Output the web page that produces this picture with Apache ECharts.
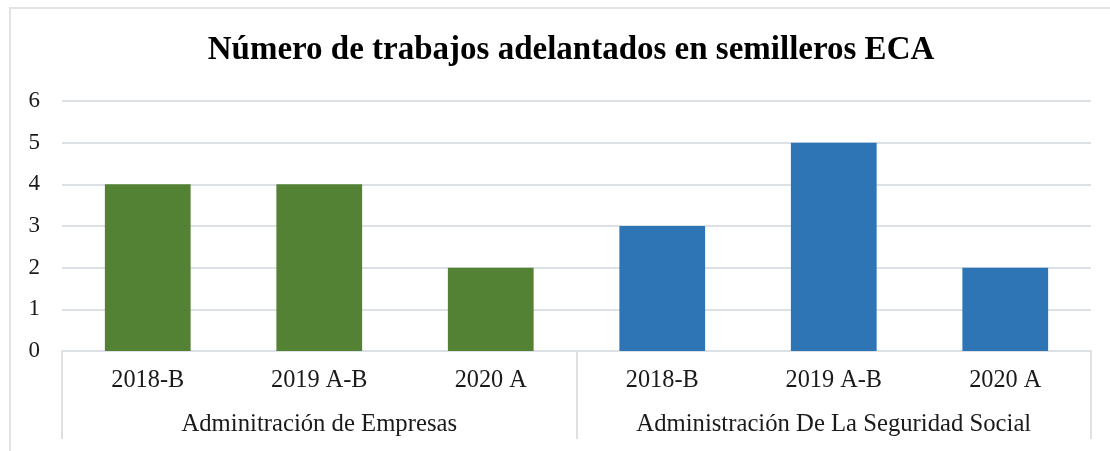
<!DOCTYPE html>
<html>
<head>
<meta charset="utf-8">
<script src="https://cdn.jsdelivr.net/npm/echarts@6/dist/echarts.min.js"></script>
<style>
html,body{margin:0;padding:0;background:#fff;}
#chart{width:1110px;height:451px;}
</style>
</head>
<body>
<div id="chart"></div>
<script>
const titleText = 'Número de trabajos adelantados en semilleros ECA';
const groups = ['Adminitración de Empresas', 'Administración De La Seguridad Social'];
const periods = ['2018-B', '2019 A-B', '2020 A', '2018-B', '2019 A-B', '2020 A'];
const groupOfPeriod = [0, 0, 0, 1, 1, 1];
const values = [4, 4, 2, 3, 5, 2];
const yTicks = [0, 1, 2, 3, 4, 5, 6];
const groupColors = ['#548235', '#2E75B6'];

const serif = '"Liberation Serif", "Times New Roman", serif';
const chart = echarts.init(document.getElementById('chart'));
chart.setOption({
  backgroundColor: '#ffffff',
  animation: false,
  graphic: [{
    type: 'rect',
    shape: {x: 10, y: 8, width: 1120, height: 460},
    style: {fill: 'none', stroke: '#e3e3e3', lineWidth: 2},
    silent: true
  }],
  title: {
    text: titleText,
    left: 566, top: 29, textAlign: 'center',
    textStyle: {fontFamily: serif, fontWeight: 'bold', fontSize: 33, color: '#000'}
  },
  grid: {left: 62, right: 19, top: 101, bottom: 100, containLabel: false},
  xAxis: [{
    type: 'category',
    data: periods,
    position: 'bottom',
    axisLine: {show: true, lineStyle: {color: '#dde1e6', width: 2}},
    axisTick: {show: false},
    axisLabel: {fontFamily: serif, fontSize: 24.3, color: '#1a1a1a', margin: 18, interval: 0}
  }, {
    type: 'category',
    data: groups,
    position: 'bottom',
    axisLine: {show: false},
    axisTick: {show: true, length: 88, lineStyle: {color: '#dde1e6', width: 2}},
    axisLabel: {fontFamily: serif, fontSize: 24.7, color: '#1a1a1a', margin: 61, interval: 0}
  }],
  yAxis: {
    type: 'value',
    min: yTicks[0], max: yTicks[yTicks.length - 1], interval: 1,
    axisLine: {show: false},
    axisTick: {show: false},
    splitLine: {lineStyle: {color: '#dde1e6', width: 2}},
    axisLabel: {fontFamily: serif, fontSize: 23, color: '#1a1a1a', margin: 22}
  },
  series: [{
    type: 'bar',
    xAxisIndex: 0,
    barWidth: '50%',
    data: values.map((v, i) => ({value: v, itemStyle: {color: groupColors[groupOfPeriod[i]]}}))
  }]
});
</script>
</body>
</html>
